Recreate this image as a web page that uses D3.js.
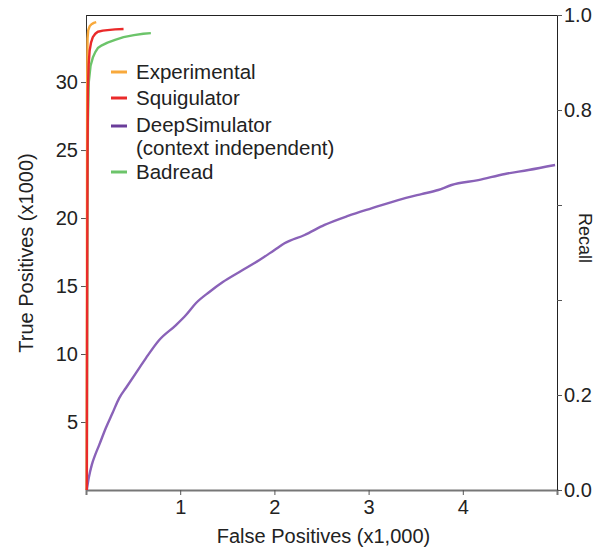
<!DOCTYPE html>
<html><head><meta charset="utf-8">
<script src="https://cdn.jsdelivr.net/npm/d3@7"></script>
<style>body{margin:0;background:#fff}svg{display:block}text{font-family:"Liberation Sans",Arial,Helvetica,sans-serif;fill:#222}</style>
</head><body><svg id="c" width="603" height="552"></svg>
<script>
// False positives (x1000) and true positives (x1000)
const expFP = [0, 0.002, 0.004, 0.008, 0.015, 0.03, 0.05, 0.075, 0.1];
const expTP = [0, 20, 30, 33.2, 33.8, 34.1, 34.25, 34.35, 34.4];
const squFP = [0, 0.004, 0.008, 0.012, 0.02, 0.03, 0.045, 0.064, 0.09, 0.117, 0.17, 0.22, 0.3, 0.39];
const squTP = [0, 15, 25, 29.5, 31.3, 32.3, 32.9, 33.3, 33.55, 33.7, 33.78, 33.82, 33.87, 33.9];
const bdrFP = [0, 0.006, 0.012, 0.021, 0.04, 0.064, 0.09, 0.117, 0.16, 0.22, 0.3, 0.39, 0.5, 0.6, 0.68];
const bdrTP = [0, 20, 27, 30.0, 31.2, 31.8, 32.2, 32.5, 32.7, 32.9, 33.1, 33.3, 33.45, 33.55, 33.6];
const dsFP = [0, 0.021, 0.053, 0.09, 0.131, 0.202, 0.273, 0.344, 0.415, 0.521, 0.628, 0.769, 0.947, 1.053, 1.16, 1.301, 1.444, 1.62, 1.833, 1.993, 2.099, 2.312, 2.524, 2.773, 3.021, 3.305, 3.553, 3.731, 3.872, 4.156, 4.439, 4.688, 4.971];
const dsTP = [0, 0.9, 1.85, 2.6, 3.3, 4.56, 5.66, 6.76, 7.5, 8.6, 9.7, 11.03, 12.13, 12.87, 13.75, 14.56, 15.29, 16.03, 16.91, 17.65, 18.14, 18.75, 19.49, 20.15, 20.71, 21.32, 21.76, 22.06, 22.43, 22.79, 23.24, 23.53, 23.9];
const legendNames = ["Experimental", "Squigulator", "DeepSimulator", "(context independent)", "Badread"];
const xTicks = [1, 2, 3, 4];
const yTicks = [5, 10, 15, 20, 25, 30];
const recallTicks = [0, 0.2, 0.4, 0.6, 0.8, 1.0];
const recallLabelled = [0, 0.2, 0.8, 1.0];
const totalTP = 34.93;

const svg = d3.select("#c");
const L = 86, R = 557, T = 15, B = 490;
const x = d3.scaleLinear().domain([0, 5]).range([L, R]);
const y = d3.scaleLinear().domain([0, totalTP]).range([B, T]);
const yr = d3.scaleLinear().domain([0, 1]).range([B, T]);

// frame top/left
svg.append("line").attr("x1", L).attr("x2", R).attr("y1", T + 0.5).attr("y2", T + 0.5).attr("stroke", "#222");
svg.append("line").attr("x1", L + 0.5).attr("x2", L + 0.5).attr("y1", T).attr("y2", B).attr("stroke", "#333");

const xa = svg.append("g").attr("transform", `translate(0,${B})`)
  .call(d3.axisBottom(x).tickValues(xTicks).tickFormat(d3.format("d")).tickSize(5).tickPadding(5));
xa.select(".domain").attr("stroke", "#777").attr("stroke-width", 2);
xa.selectAll(".tick line").attr("stroke", "#555");
xa.selectAll("text").style("font-size", "20px").attr("fill", "#222");

const ya = svg.append("g").attr("transform", `translate(${L},0)`)
  .call(d3.axisLeft(y).tickValues(yTicks).tickFormat(d3.format("d")).tickSize(5).tickPadding(3));
ya.select(".domain").remove();
ya.selectAll(".tick line").attr("stroke", "#555");
ya.selectAll("text").style("font-size", "20px").attr("fill", "#222");

const ra = svg.append("g").attr("transform", `translate(${R},0)`)
  .call(d3.axisRight(yr).tickValues(recallTicks)
    .tickFormat(d => recallLabelled.some(v => Math.abs(v - d) < 1e-9) ? d3.format(".1f")(d) : "")
    .tickSize(5).tickPadding(2).tickSizeOuter(0));
ra.select(".domain").attr("stroke", "#222");
ra.selectAll(".tick line").attr("stroke", "#555");
ra.selectAll("text").style("font-size", "20px").attr("fill", "#222");

const series = [
  {fp: dsFP, tp: dsTP, color: "#8a62b8", curve: d3.curveMonotoneX},
  {fp: bdrFP, tp: bdrTP, color: "#6cc46a", curve: d3.curveLinear},
  {fp: expFP, tp: expTP, color: "#f8a93c", curve: d3.curveLinear},
  {fp: squFP, tp: squTP, color: "#ea2a2a", curve: d3.curveLinear}
];
series.forEach(s => {
  const line = d3.line().x(d => x(d[0]) + 0.8).y(d => y(d[1])).curve(s.curve);
  svg.append("path").datum(s.fp.map((v, i) => [v, s.tp[i]]))
    .attr("d", line).attr("fill", "none").attr("stroke", s.color).attr("stroke-width", 2.4)
    .attr("stroke-linejoin", "round");
});

svg.append("text").attr("x", (L + R) / 2 + 2).attr("y", 543).attr("text-anchor", "middle")
  .style("font-size", "20px").text("False Positives (x1,000)");
svg.append("text").attr("transform", "translate(33,253) rotate(-90)").attr("text-anchor", "middle")
  .style("font-size", "20px").text("True Positives (x1000)");
svg.append("text").attr("transform", "translate(579,238) rotate(90)").attr("text-anchor", "middle")
  .style("font-size", "18px").text("Recall");

// legend
const legColors = ["#f8a93c", "#ea2a2a", "#6a3d9a", null, "#6cc46a"];
const legY = [72, 98, 125, 148, 172];
legendNames.forEach((n, i) => {
  if (legColors[i]) {
    svg.append("line").attr("x1", 111).attr("x2", 127).attr("y1", i === 2 ? 126 : legY[i]).attr("y2", i === 2 ? 126 : legY[i])
      .attr("stroke", legColors[i]).attr("stroke-width", 3);
  }
  svg.append("text").attr("x", 136).attr("y", legY[i] + 7).style("font-size", "20.5px").text(n);
});
</script></body></html>
